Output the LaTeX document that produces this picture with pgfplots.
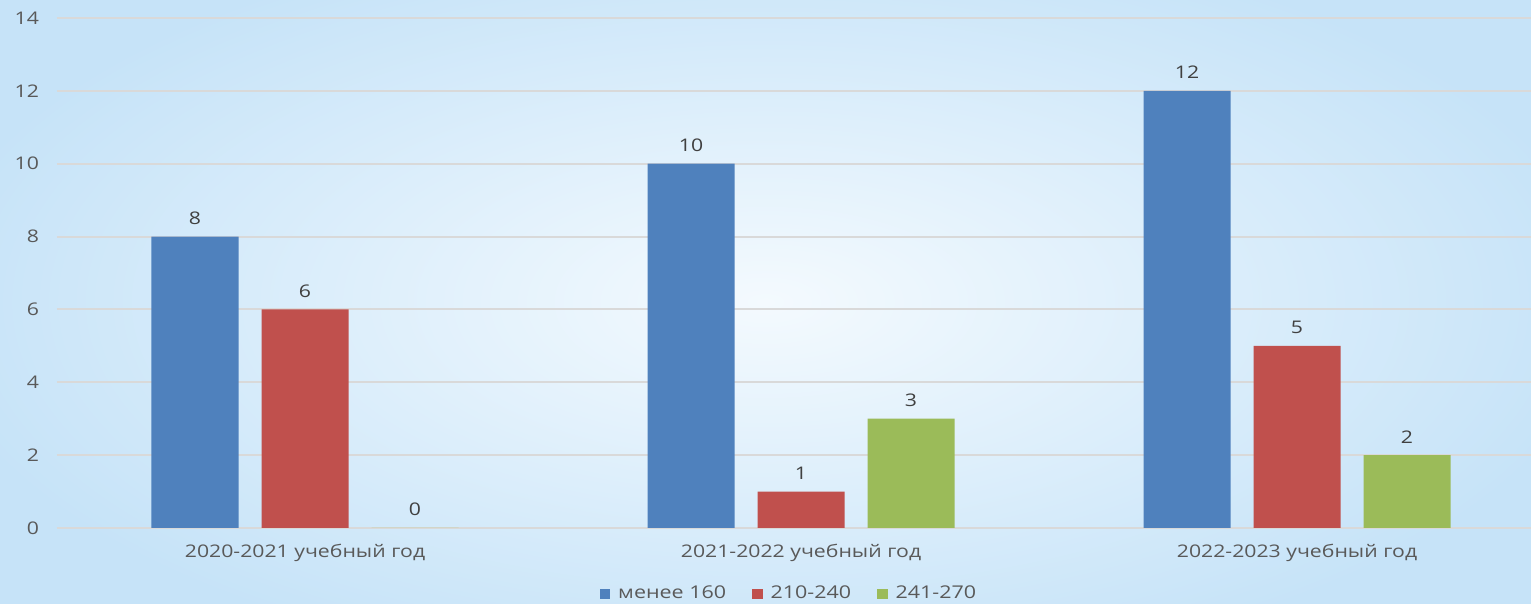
\documentclass[border=0pt]{standalone}
\usepackage{fontspec}
\setmainfont{Open Sans}[FakeStretch=1.22]
\usepackage{pgfplots}
\pgfplotsset{compat=1.18}
\definecolor{cblue}{HTML}{4F81BD}
\definecolor{cred}{HTML}{C0504D}
\definecolor{cgreen}{HTML}{9BBB59}
\definecolor{gridgray}{HTML}{D9D9D9}
\definecolor{ticktxt}{HTML}{595959}
\definecolor{lbltxt}{HTML}{404040}
\definecolor{bginner}{HTML}{F4FAFE}
\definecolor{bgouter}{HTML}{C6E3F8}
\begin{document}
\begin{tikzpicture}
\useasboundingbox (0,0) rectangle (765.5pt,302pt);
\clip (0,0) rectangle (765.5pt,302pt);
\shade[inner color=bginner, outer color=bgouter] (-40pt,-40pt) rectangle (805.5pt,342pt);
\begin{axis}[
  at={(28.5pt,38pt)}, anchor=south west,
  scale only axis, width=744pt, height=255pt,
  xmin=-0.5, xmax=2.5, ymin=0, ymax=14,
  ytick={0,2,...,14}, xtick={0,1,2},
  xticklabels={2020-2021 учебный год,2021-2022 учебный год,2022-2023 учебный год},
  /pgf/number format/assume math mode=true,
  axis line style={draw=none},
  major tick length=0pt,
  ymajorgrids, major grid style={draw=gridgray, line width=1pt},
  yticklabel style={font=\fontsize{8.7}{10}\selectfont, text=ticktxt, xshift=-5.5pt},
  xticklabel style={font=\fontsize{8.7}{10}\selectfont, text=ticktxt, yshift=-4.5pt},
  ybar, bar width=43.5pt,
  nodes near coords,
  every node near coord/.append style={font=\fontsize{8.7}{10}\selectfont, text=lbltxt, yshift=2.5pt},
  legend style={at={(0.4926,0)}, anchor=center, yshift=-33pt, draw=none, fill=none,
    font=\fontsize{8.8}{10}\selectfont, text=ticktxt, legend columns=3,
    /tikz/every even column/.append style={column sep=11pt},
    /tikz/every odd column/.append style={column sep=2pt}},
  legend image code/.code={\fill[#1] (0pt,-2.6pt) rectangle (5.2pt,2.6pt);},
  clip=false,
]
\addplot[fill=cblue, draw=none, bar shift=-55pt] coordinates {(0,8) (1,10) (2,12)};
\addplot[fill=cred, draw=none, bar shift=0pt] coordinates {(0,6) (1,1) (2,5)};
\addplot[fill=cgreen, draw=none, bar shift=55pt] coordinates {(0,0) (1,3) (2,2)};
\legend{менее 160,210-240,241-270}
\end{axis}
\end{tikzpicture}
\end{document}
